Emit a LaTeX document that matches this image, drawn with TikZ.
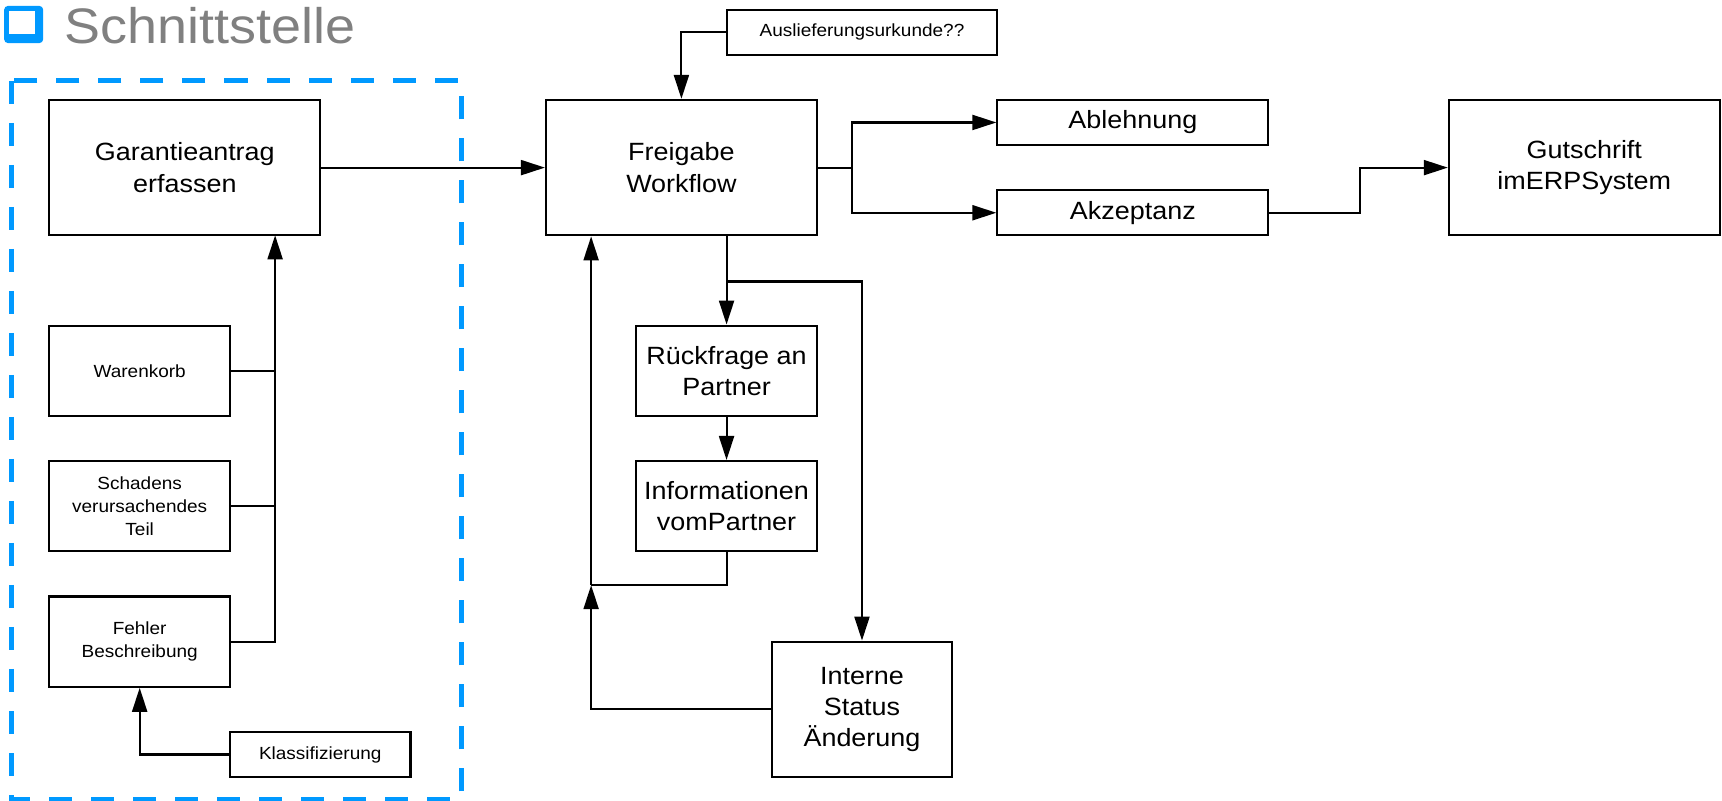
\documentclass[tikz,border=0pt]{standalone}
\usepackage{fontspec}
\setmainfont{Liberation Sans}[FakeStretch=1.08]
\usepackage{tikz}
\usetikzlibrary{arrows.meta, positioning}
\definecolor{ifblue}{RGB}{0,153,255}
\definecolor{titlegrey}{RGB}{128,128,128}
\tikzset{
    >={Triangle[length=0.24cm, width=0.15cm]}, % filled arrow heads
    box/.style 2 args={draw, rectangle, inner sep=0pt, align=center,
        minimum width=#1*0.4514cm, minimum height=#2*0.4514cm}, % size in grid steps
    bigtext/.style={font=\fontsize{7.1}{8.9}\selectfont},
    smalltext/.style={font=\fontsize{5}{6.5}\selectfont},
    frame/.style={ifblue, line width=0.05cm, dash pattern=on 0.23cm off 0.19cm},
}

\begin{document}
\begin{tikzpicture}[x=0.4514cm, y=-0.4514cm, line width=0.6pt]
            \useasboundingbox (-1.094,-2.213) rectangle (37.05,15.53);

            % title
            \fill[ifblue, rounded corners=1pt] (-1.0,-2.08) rectangle (-0.14,-1.26);
            \filldraw[fill=white, draw=ifblue, line width=0.4pt] (-0.9,-1.99) rectangle (-0.3,-1.44);
            \node[anchor=base west, inner sep=0pt, text=titlegrey, font=\fontsize{14.2}{17}\selectfont]
                (title) at (0.32,-1.26) {Schnittstelle};
            \draw[frame] (-0.83,-0.42) rectangle (9.12,15.5);

            % interface side
            \node[box={6}{3}, bigtext] (garantie) at (3,1.5) {Garantieantrag\\erfassen};
            \node[box={4}{2}, smalltext] (warenkorb) at (2,6) {Warenkorb};
            \node[box={4}{2}, smalltext] (schadens) at (2,9) {Schadens\\verursachendes\\Teil};
            \node[box={4}{2}, smalltext] (fehler) at (2,12) {Fehler\\Beschreibung};
            \node[box={4}{1}, smalltext] (klass) at (6,14.5) {Klassifizierung};

            % workflow
            \node[box={6}{3}, bigtext] (freigabe) at (14,1.5) {Freigabe\\Workflow};
            \node[box={6}{1}, smalltext] (ausl) at (18,-1.5) {Auslieferungsurkunde??};
            \node[box={6}{1}, bigtext] (ablehnung) at (24,0.5) {Ablehnung};
            \node[box={6}{1}, bigtext] (akzeptanz) at (24,2.5) {Akzeptanz};
            \node[box={6}{3}, bigtext] (gutschrift) at (34,1.5) {Gutschrift\\imERPSystem};
            \node[box={4}{2}, bigtext] (rueckfrage) at (15,6) {Rückfrage an\\Partner};
            \node[box={4}{2}, bigtext] (info) at (15,9) {Informationen\\vomPartner};
            \node[box={4}{3}, bigtext] (interne) at (18,13.5) {Interne\\Status\\Änderung};

            \coordinate (bus) at (5,3);
            \coordinate (join) at (12,10.75);

            \draw (warenkorb.east) -- (warenkorb.east -| bus);
            \draw (schadens.east) -- (schadens.east -| bus);
            \draw[->] (fehler.east) -| (bus);
            \draw[->] (klass.west) -| (fehler.south);
            \draw[->] (garantie) -- (freigabe);
            \draw[->] (ausl.west) -| (freigabe.north);

            \draw (freigabe.east) -- ++(0.75,0) coordinate (split);
            \draw[->] (split) |- (ablehnung);
            \draw[->] (split) |- (akzeptanz);
            \draw[->] (akzeptanz.east) -- ++(2,0) |- (gutschrift);

            \draw[->] (freigabe.south -| rueckfrage.north) -- (rueckfrage.north);
            \draw[->] (freigabe.south -| rueckfrage.north) -- ++(0,1) -| (interne.north);
            \draw[->] (rueckfrage) -- (info);
            \draw (info.south) |- (join);
            \draw[->] (join) -- (freigabe.south -| join);
            \draw[->] (interne.west) -| (join);
        \end{tikzpicture}
\end{document}
